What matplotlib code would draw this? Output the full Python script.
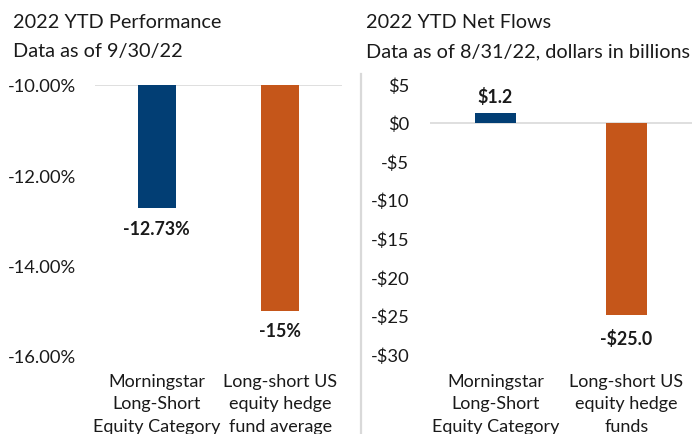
import matplotlib

matplotlib.use("Agg")
import matplotlib.pyplot as plt
from matplotlib.lines import Line2D

plt.rcParams["font.family"] = ["Lato", "DejaVu Sans"]

categories_perf = ["Morningstar\nLong-Short\nEquity Category", "Long-short US\nequity hedge\nfund average"]
perf_values = [-12.73, -15.0]
perf_labels = ["-12.73%", "-15%"]
perf_ticks = [-10, -12, -14, -16]

categories_flow = ["Morningstar\nLong-Short\nEquity Category", "Long-short US\nequity hedge\nfunds"]
flow_values = [1.2, -25.0]
flow_labels = ["$1.2", "-$25.0"]
flow_ticks = [5, 0, -5, -10, -15, -20, -25, -30]

NAVY = "#023e74"
ORANGE = "#c5561a"
TXT = "#1a1a1a"
colors = [NAVY, ORANGE]
W, H = 693, 435

fig = plt.figure(figsize=(W / 100, H / 100), dpi=100)


def px_axes(x0, x1, y_top, y_bot):
    return fig.add_axes([x0 / W, 1 - y_bot / H, (x1 - x0) / W, (y_bot - y_top) / H])


def strip(ax):
    for s in ax.spines.values():
        s.set_visible(False)
    ax.tick_params(length=0, colors=TXT)
    ax.tick_params(axis="y", labelsize=13.2)
    ax.tick_params(axis="x", labelsize=13)
    ax.set_xlim(-0.5, 1.5)


# left: performance, bars hang from the -10% baseline
ax1 = px_axes(95, 342, 86, 357)
strip(ax1)
base = -10
x = range(len(perf_values))
ax1.bar(x, [v - base for v in perf_values], bottom=base, width=0.31, color=colors)
ax1.axhline(base, color="#d9d9d9", lw=1.2, zorder=0)
ax1.set_ylim(-16, -10)
ax1.set_yticks(perf_ticks, [f"{t:.2f}%" for t in perf_ticks])
ax1.tick_params(axis="y", pad=13.7)
ax1.set_xticks(list(x), categories_perf, linespacing=1.5)
ax1.tick_params(axis="x", pad=12)
for i, (v, lab) in enumerate(zip(perf_values, perf_labels)):
    ax1.annotate(lab, (i, v), xytext=(0, -14.5), textcoords="offset points",
                 ha="center", va="center", fontsize=12.8, fontweight="bold", color=TXT)
fig.text(13 / W, 1 - 22 / H, "2022 YTD Performance", fontsize=14.3, va="center", color=TXT)
fig.text(13 / W, 1 - 52 / H, "Data as of 9/30/22", fontsize=14.3, va="center", color=TXT)

# right: net flows
ax2 = px_axes(430, 692, 85, 355)
strip(ax2)
ax2.bar(x, flow_values, width=0.31, color=colors)
ax2.axhline(0, color="#d9d9d9", lw=1.2, zorder=0)
ax2.set_ylim(-30, 5)
ax2.set_yticks(flow_ticks, [f"${t}" if t >= 0 else f"-${-t}" for t in flow_ticks])
ax2.tick_params(axis="y", pad=15)
ax2.set_xticks(list(x), categories_flow, linespacing=1.5)
ax2.tick_params(axis="x", pad=13.5)
for i, (v, lab) in enumerate(zip(flow_values, flow_labels)):
    off = 12.5 if v > 0 else -16
    ax2.annotate(lab, (i, v), xytext=(0, off), textcoords="offset points",
                 ha="center", va="center", fontsize=12.8, fontweight="bold", color=TXT)
fig.text(366 / W, 1 - 22 / H, "2022 YTD Net Flows", fontsize=14.3, va="center", color=TXT)
fig.text(366 / W, 1 - 52 / H, "Data as of 8/31/22, dollars in billions", fontsize=14.3,
         va="center", color=TXT)

# divider between the two panels
fig.add_artist(Line2D([361 / W, 361 / W], [0, 1 - 75 / H], color="#d9d9d9", lw=1.6))

fig.savefig("out.png", dpi=100)
